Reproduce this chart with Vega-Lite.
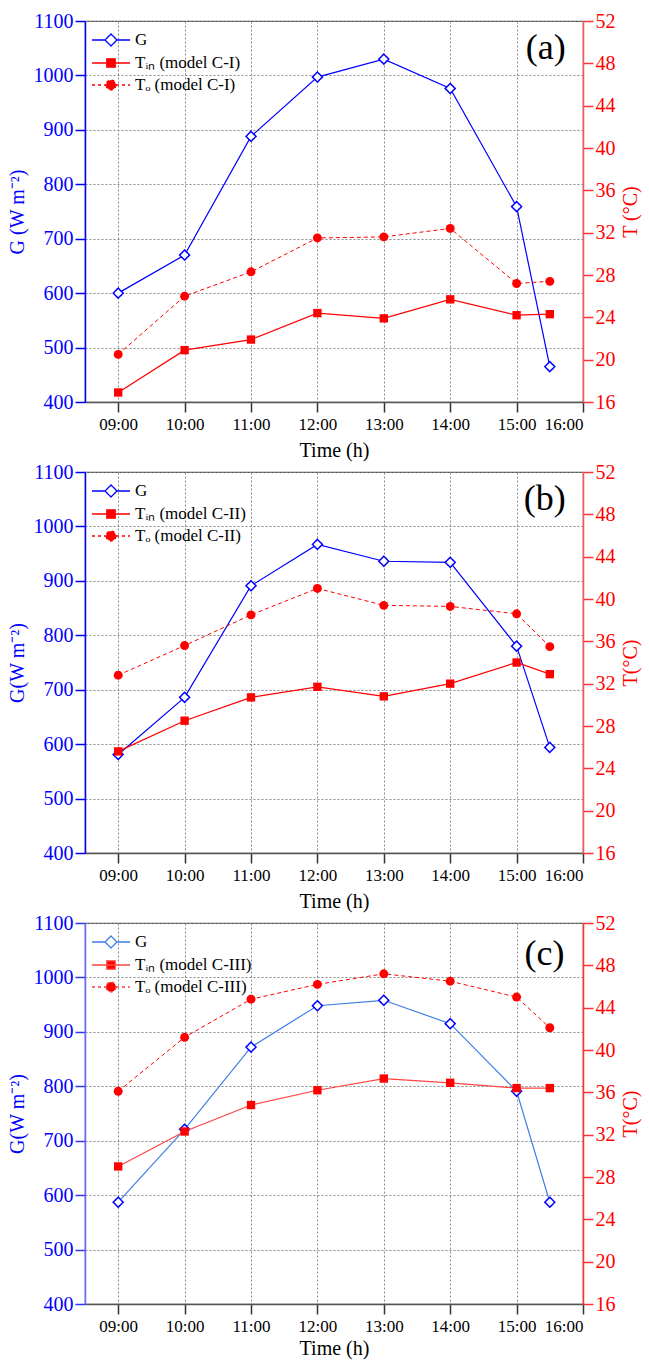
{
  "$schema": "https://vega.github.io/schema/vega-lite/v6.json",
  "padding": {"left": 6, "top": 10, "right": 5, "bottom": 3},
  "config": {
    "font": "Liberation Serif",
    "view": {"stroke": "#555555", "strokeWidth": 1.2},
    "axis": {"labelFont": "Liberation Serif", "titleFont": "Liberation Serif", "titleFontWeight": "normal", "tickSize": 10, "labelPadding": 3, "domainWidth": 1.5, "tickWidth": 1.5},
    "legend": {"labelFont": "Liberation Serif", "labelFontSize": 17, "labelColor": "#000000"}
  },
  "data": {"values": [
    {"p":"a","s":"G","t":9,"v":600},{"p":"a","s":"G","t":10,"v":670},{"p":"a","s":"G","t":11,"v":888},{"p":"a","s":"G","t":12,"v":997},{"p":"a","s":"G","t":13,"v":1030},{"p":"a","s":"G","t":14,"v":976},{"p":"a","s":"G","t":15,"v":759},{"p":"a","s":"G","t":15.5,"v":465},
    {"p":"a","s":"Tin","t":9,"v":16.9},{"p":"a","s":"Tin","t":10,"v":20.9},{"p":"a","s":"Tin","t":11,"v":21.9},{"p":"a","s":"Tin","t":12,"v":24.4},{"p":"a","s":"Tin","t":13,"v":23.9},{"p":"a","s":"Tin","t":14,"v":25.7},{"p":"a","s":"Tin","t":15,"v":24.2},{"p":"a","s":"Tin","t":15.5,"v":24.3},
    {"p":"a","s":"To","t":9,"v":20.5},{"p":"a","s":"To","t":10,"v":26.0},{"p":"a","s":"To","t":11,"v":28.3},{"p":"a","s":"To","t":12,"v":31.5},{"p":"a","s":"To","t":13,"v":31.6},{"p":"a","s":"To","t":14,"v":32.4},{"p":"a","s":"To","t":15,"v":27.2},{"p":"a","s":"To","t":15.5,"v":27.4},
    {"p":"b","s":"G","t":9,"v":581},{"p":"b","s":"G","t":10,"v":686},{"p":"b","s":"G","t":11,"v":891},{"p":"b","s":"G","t":12,"v":967},{"p":"b","s":"G","t":13,"v":936},{"p":"b","s":"G","t":14,"v":934},{"p":"b","s":"G","t":15,"v":780},{"p":"b","s":"G","t":15.5,"v":594},
    {"p":"b","s":"Tin","t":9,"v":25.6},{"p":"b","s":"Tin","t":10,"v":28.5},{"p":"b","s":"Tin","t":11,"v":30.7},{"p":"b","s":"Tin","t":12,"v":31.7},{"p":"b","s":"Tin","t":13,"v":30.8},{"p":"b","s":"Tin","t":14,"v":32.0},{"p":"b","s":"Tin","t":15,"v":34.0},{"p":"b","s":"Tin","t":15.5,"v":32.9},
    {"p":"b","s":"To","t":9,"v":32.8},{"p":"b","s":"To","t":10,"v":35.6},{"p":"b","s":"To","t":11,"v":38.5},{"p":"b","s":"To","t":12,"v":41.0},{"p":"b","s":"To","t":13,"v":39.4},{"p":"b","s":"To","t":14,"v":39.3},{"p":"b","s":"To","t":15,"v":38.6},{"p":"b","s":"To","t":15.5,"v":35.5},
    {"p":"c","s":"G","t":9,"v":587},{"p":"c","s":"G","t":10,"v":721},{"p":"c","s":"G","t":11,"v":872},{"p":"c","s":"G","t":12,"v":948},{"p":"c","s":"G","t":13,"v":958},{"p":"c","s":"G","t":14,"v":915},{"p":"c","s":"G","t":15,"v":791},{"p":"c","s":"G","t":15.5,"v":587},
    {"p":"c","s":"Tin","t":9,"v":29.0},{"p":"c","s":"Tin","t":10,"v":32.3},{"p":"c","s":"Tin","t":11,"v":34.8},{"p":"c","s":"Tin","t":12,"v":36.2},{"p":"c","s":"Tin","t":13,"v":37.3},{"p":"c","s":"Tin","t":14,"v":36.9},{"p":"c","s":"Tin","t":15,"v":36.4},{"p":"c","s":"Tin","t":15.5,"v":36.4},
    {"p":"c","s":"To","t":9,"v":36.1},{"p":"c","s":"To","t":10,"v":41.2},{"p":"c","s":"To","t":11,"v":44.8},{"p":"c","s":"To","t":12,"v":46.2},{"p":"c","s":"To","t":13,"v":47.2},{"p":"c","s":"To","t":14,"v":46.5},{"p":"c","s":"To","t":15,"v":45.0},{"p":"c","s":"To","t":15.5,"v":42.1}
  ]},
  "bounds": "flush",
  "spacing": 70,
  "resolve": {"scale": {"strokeDash": "independent"}, "legend": {"strokeDash": "independent"}},
  "vconcat": [
    {
      "width": 498, "height": 381,
      "transform": [{"filter": "datum.p === 'a'"}],
      "layer": [
        {"layer": [
          {"transform": [{"filter": "datum.s === 'G'"}],
           "mark": {"type": "line", "color": "#0000ff", "strokeWidth": 1.2},
           "encoding": {
             "x": {"field": "t", "type": "quantitative", "scale": {"domain": [8.5, 16], "nice": false, "zero": false},
                   "axis": {"values": [9,10,11,12,13,14,15,16], "labelExpr": "format(datum.value,'02d') + ':00'", "title": "Time (h)", "titleFontSize": 20, "labelFontSize": 17, "labelFont": "Liberation Serif", "titleFont": "Liberation Serif", "labelColor": "#000000", "titleColor": "#000000", "domainColor": "#555555", "tickColor": "#333333", "grid": true, "gridDash": [2,2], "gridColor": "#888888", "gridWidth": 1, "labelPadding": 4, "titlePadding": 8}},
             "y": {"field": "v", "type": "quantitative", "scale": {"domain": [400, 1100], "nice": false, "zero": false},
                   "axis": {"orient": "left", "title": "G (W m⁻²)", "format": "d", "values": [400,500,600,700,800,900,1000,1100], "titleFontSize": 20, "labelFontSize": 20, "labelFont": "Liberation Serif", "titleFont": "Liberation Serif", "labelColor": "#0000ff", "titleColor": "#0000ff", "domainColor": "#0000ff", "tickColor": "#0000ff", "grid": true, "gridDash": [2,2], "gridColor": "#888888", "gridWidth": 1, "labelPadding": 2, "titlePadding": 6}}
           }},
          {"data": {"values": [{"p": "a", "lab": "(a)"}]},
           "mark": {"type": "text", "font": "Liberation Serif", "fontSize": 36, "align": "right", "baseline": "alphabetic", "color": "#000000"},
           "encoding": {"x": {"datum": 15.74, "type": "quantitative"}, "y": {"datum": 1030, "type": "quantitative"}, "text": {"field": "lab"}}},
          {"transform": [{"filter": "datum.s === 'G'"}],
           "mark": {"type": "point", "shape": "diamond", "stroke": "#0000ff", "fill": "#ffffff", "fillOpacity": 1, "strokeWidth": 1.5, "size": 100, "opacity": 1},
           "encoding": {
             "x": {"field": "t", "type": "quantitative"},
             "y": {"field": "v", "type": "quantitative"},
             "strokeDash": {"field": "s", "type": "nominal", "scale": {"domain": ["G","Tin","To"], "range": [[1,0],[1,0],[3,3]]},
               "legend": {"title": null, "orient": "none", "legendX": 15, "legendY": 8, "padding": 0, "rowPadding": 3, "symbolSize": 400, "symbolStrokeWidth": 1.3, "labelOffset": 13,
                 "labelExpr": "datum.value === 'G' ? 'G' : datum.value === 'Tin' ? 'Tᵢₙ (model C-I)' : 'Tₒ (model C-I)'",
                 "encoding": {"symbols": {
                   "shape": {"condition": [{"test": "datum.value === 'G'", "value": "M-1.9,0H-0.6M0.6,0H1.9M0,-0.6L0.6,0L0,0.6L-0.6,0Z"}, {"test": "datum.value === 'Tin'", "value": "M-1.9,0H1.9M-0.42,-0.42H0.42V0.42H-0.42Z"}], "value": "M-1.9,0H-0.5M0.5,0H1.9M0.5,0L0.433,0.25L0.25,0.433L0,0.5L-0.25,0.433L-0.433,0.25L-0.5,0L-0.433,-0.25L-0.25,-0.433L0,-0.5L0.25,-0.433L0.433,-0.25Z"},
                   "stroke": {"condition": {"test": "datum.value === 'G'", "value": "#0000ff"}, "value": "#ff0000"},
                   "fill": {"condition": {"test": "datum.value === 'G'", "value": "#ffffff"}, "value": "#ff0000"}
                 }}}}
           }}
        ]},
        {"layer": [
          {"transform": [{"filter": "datum.s === 'Tin'"}],
           "mark": {"type": "line", "color": "#ff0000", "strokeWidth": 1.2},
           "encoding": {
             "x": {"field": "t", "type": "quantitative"},
             "y": {"field": "v", "type": "quantitative", "scale": {"domain": [16, 52], "nice": false, "zero": false},
                   "axis": {"orient": "right", "title": "T (°C)", "titleAngle": 270, "titleBaseline": "top", "values": [16,20,24,28,32,36,40,44,48,52], "titleFontSize": 20, "labelFontSize": 20, "labelFont": "Liberation Serif", "titleFont": "Liberation Serif", "labelColor": "#ff0000", "titleColor": "#ff0000", "domainColor": "#ff5555", "tickColor": "#ff3333", "grid": false, "labelPadding": 2, "titlePadding": 5}}
           }},
          {"transform": [{"filter": "datum.s === 'Tin'"}],
           "mark": {"type": "point", "shape": "square", "filled": true, "color": "#ff0000", "size": 70, "opacity": 1},
           "encoding": {"x": {"field": "t", "type": "quantitative"}, "y": {"field": "v", "type": "quantitative"}}},
          {"transform": [{"filter": "datum.s === 'To'"}],
           "mark": {"type": "line", "color": "#ff0000", "strokeWidth": 1, "strokeDash": [4,3]},
           "encoding": {"x": {"field": "t", "type": "quantitative"}, "y": {"field": "v", "type": "quantitative"}}},
          {"transform": [{"filter": "datum.s === 'To'"}],
           "mark": {"type": "point", "shape": "circle", "filled": true, "color": "#ff0000", "size": 80, "opacity": 1},
           "encoding": {"x": {"field": "t", "type": "quantitative"}, "y": {"field": "v", "type": "quantitative"}}}
        ]}
      ],
      "resolve": {"scale": {"y": "independent"}}
    },
    {
      "width": 498, "height": 381,
      "transform": [{"filter": "datum.p === 'b'"}],
      "layer": [
        {"layer": [
          {"transform": [{"filter": "datum.s === 'G'"}],
           "mark": {"type": "line", "color": "#0000ff", "strokeWidth": 1.2},
           "encoding": {
             "x": {"field": "t", "type": "quantitative", "scale": {"domain": [8.5, 16], "nice": false, "zero": false},
                   "axis": {"values": [9,10,11,12,13,14,15,16], "labelExpr": "format(datum.value,'02d') + ':00'", "title": "Time (h)", "titleFontSize": 20, "labelFontSize": 17, "labelFont": "Liberation Serif", "titleFont": "Liberation Serif", "labelColor": "#000000", "titleColor": "#000000", "domainColor": "#555555", "tickColor": "#333333", "grid": true, "gridDash": [2,2], "gridColor": "#888888", "gridWidth": 1, "labelPadding": 4, "titlePadding": 8}},
             "y": {"field": "v", "type": "quantitative", "scale": {"domain": [400, 1100], "nice": false, "zero": false},
                   "axis": {"orient": "left", "title": "G(W m⁻²)", "format": "d", "values": [400,500,600,700,800,900,1000,1100], "titleFontSize": 20, "labelFontSize": 20, "labelFont": "Liberation Serif", "titleFont": "Liberation Serif", "labelColor": "#0000ff", "titleColor": "#0000ff", "domainColor": "#0000ff", "tickColor": "#0000ff", "grid": true, "gridDash": [2,2], "gridColor": "#888888", "gridWidth": 1, "labelPadding": 2, "titlePadding": 6}}
           }},
          {"data": {"values": [{"p": "b", "lab": "(b)"}]},
           "mark": {"type": "text", "font": "Liberation Serif", "fontSize": 36, "align": "right", "baseline": "alphabetic", "color": "#000000"},
           "encoding": {"x": {"datum": 15.74, "type": "quantitative"}, "y": {"datum": 1030, "type": "quantitative"}, "text": {"field": "lab"}}},
          {"transform": [{"filter": "datum.s === 'G'"}],
           "mark": {"type": "point", "shape": "diamond", "stroke": "#0000ff", "fill": "#ffffff", "fillOpacity": 1, "strokeWidth": 1.5, "size": 100, "opacity": 1},
           "encoding": {
             "x": {"field": "t", "type": "quantitative"},
             "y": {"field": "v", "type": "quantitative"},
             "strokeDash": {"field": "s", "type": "nominal", "scale": {"domain": ["G","Tin","To"], "range": [[1,0],[1,0],[3,3]]},
               "legend": {"title": null, "orient": "none", "legendX": 15, "legendY": 8, "padding": 0, "rowPadding": 3, "symbolSize": 400, "symbolStrokeWidth": 1.3, "labelOffset": 13,
                 "labelExpr": "datum.value === 'G' ? 'G' : datum.value === 'Tin' ? 'Tᵢₙ (model C-II)' : 'Tₒ (model C-II)'",
                 "encoding": {"symbols": {
                   "shape": {"condition": [{"test": "datum.value === 'G'", "value": "M-1.9,0H-0.6M0.6,0H1.9M0,-0.6L0.6,0L0,0.6L-0.6,0Z"}, {"test": "datum.value === 'Tin'", "value": "M-1.9,0H1.9M-0.42,-0.42H0.42V0.42H-0.42Z"}], "value": "M-1.9,0H-0.5M0.5,0H1.9M0.5,0L0.433,0.25L0.25,0.433L0,0.5L-0.25,0.433L-0.433,0.25L-0.5,0L-0.433,-0.25L-0.25,-0.433L0,-0.5L0.25,-0.433L0.433,-0.25Z"},
                   "stroke": {"condition": {"test": "datum.value === 'G'", "value": "#0000ff"}, "value": "#ff0000"},
                   "fill": {"condition": {"test": "datum.value === 'G'", "value": "#ffffff"}, "value": "#ff0000"}
                 }}}}
           }}
        ]},
        {"layer": [
          {"transform": [{"filter": "datum.s === 'Tin'"}],
           "mark": {"type": "line", "color": "#ff0000", "strokeWidth": 1.2},
           "encoding": {
             "x": {"field": "t", "type": "quantitative"},
             "y": {"field": "v", "type": "quantitative", "scale": {"domain": [16, 52], "nice": false, "zero": false},
                   "axis": {"orient": "right", "title": "T(°C)", "titleAngle": 270, "titleBaseline": "top", "values": [16,20,24,28,32,36,40,44,48,52], "titleFontSize": 20, "labelFontSize": 20, "labelFont": "Liberation Serif", "titleFont": "Liberation Serif", "labelColor": "#ff0000", "titleColor": "#ff0000", "domainColor": "#ff5555", "tickColor": "#ff3333", "grid": false, "labelPadding": 2, "titlePadding": 5}}
           }},
          {"transform": [{"filter": "datum.s === 'Tin'"}],
           "mark": {"type": "point", "shape": "square", "filled": true, "color": "#ff0000", "size": 70, "opacity": 1},
           "encoding": {"x": {"field": "t", "type": "quantitative"}, "y": {"field": "v", "type": "quantitative"}}},
          {"transform": [{"filter": "datum.s === 'To'"}],
           "mark": {"type": "line", "color": "#ff0000", "strokeWidth": 1, "strokeDash": [4,3]},
           "encoding": {"x": {"field": "t", "type": "quantitative"}, "y": {"field": "v", "type": "quantitative"}}},
          {"transform": [{"filter": "datum.s === 'To'"}],
           "mark": {"type": "point", "shape": "circle", "filled": true, "color": "#ff0000", "size": 80, "opacity": 1},
           "encoding": {"x": {"field": "t", "type": "quantitative"}, "y": {"field": "v", "type": "quantitative"}}}
        ]}
      ],
      "resolve": {"scale": {"y": "independent"}}
    },
    {
      "width": 498, "height": 381,
      "transform": [{"filter": "datum.p === 'c'"}],
      "layer": [
        {"layer": [
          {"transform": [{"filter": "datum.s === 'G'"}],
           "mark": {"type": "line", "color": "#3d7fe6", "strokeWidth": 1.2},
           "encoding": {
             "x": {"field": "t", "type": "quantitative", "scale": {"domain": [8.5, 16], "nice": false, "zero": false},
                   "axis": {"values": [9,10,11,12,13,14,15,16], "labelExpr": "format(datum.value,'02d') + ':00'", "title": "Time (h)", "titleFontSize": 20, "labelFontSize": 17, "labelFont": "Liberation Serif", "titleFont": "Liberation Serif", "labelColor": "#000000", "titleColor": "#000000", "domainColor": "#555555", "tickColor": "#333333", "grid": true, "gridDash": [2,2], "gridColor": "#888888", "gridWidth": 1, "labelPadding": 4, "titlePadding": 4}},
             "y": {"field": "v", "type": "quantitative", "scale": {"domain": [400, 1100], "nice": false, "zero": false},
                   "axis": {"orient": "left", "title": "G(W m⁻²)", "format": "d", "values": [400,500,600,700,800,900,1000,1100], "titleFontSize": 20, "labelFontSize": 20, "labelFont": "Liberation Serif", "titleFont": "Liberation Serif", "labelColor": "#0000ff", "titleColor": "#0000ff", "domainColor": "#6a6aff", "tickColor": "#3333ff", "grid": true, "gridDash": [2,2], "gridColor": "#888888", "gridWidth": 1, "labelPadding": 2, "titlePadding": 6}}
           }},
          {"data": {"values": [{"p": "c", "lab": "(c)"}]},
           "mark": {"type": "text", "font": "Liberation Serif", "fontSize": 36, "align": "right", "baseline": "alphabetic", "color": "#000000"},
           "encoding": {"x": {"datum": 15.72, "type": "quantitative"}, "y": {"datum": 1022, "type": "quantitative"}, "text": {"field": "lab"}}},
          {"transform": [{"filter": "datum.s === 'G'"}],
           "mark": {"type": "point", "shape": "diamond", "stroke": "#0000ff", "fill": "#ffffff", "fillOpacity": 1, "strokeWidth": 1.5, "size": 100, "opacity": 1},
           "encoding": {
             "x": {"field": "t", "type": "quantitative"},
             "y": {"field": "v", "type": "quantitative"},
             "strokeDash": {"field": "s", "type": "nominal", "scale": {"domain": ["G","Tin","To"], "range": [[1,0],[1,0],[3,3]]},
               "legend": {"title": null, "orient": "none", "legendX": 15, "legendY": 8, "padding": 0, "rowPadding": 3, "symbolSize": 400, "symbolStrokeWidth": 1.3, "labelOffset": 13,
                 "labelExpr": "datum.value === 'G' ? 'G' : datum.value === 'Tin' ? 'Tᵢₙ (model C-III)' : 'Tₒ (model C-III)'",
                 "encoding": {"symbols": {
                   "shape": {"condition": [{"test": "datum.value === 'G'", "value": "M-1.9,0H-0.6M0.6,0H1.9M0,-0.6L0.6,0L0,0.6L-0.6,0Z"}, {"test": "datum.value === 'Tin'", "value": "M-1.9,0H1.9M-0.42,-0.42H0.42V0.42H-0.42Z"}], "value": "M-1.9,0H-0.5M0.5,0H1.9M0.5,0L0.433,0.25L0.25,0.433L0,0.5L-0.25,0.433L-0.433,0.25L-0.5,0L-0.433,-0.25L-0.25,-0.433L0,-0.5L0.25,-0.433L0.433,-0.25Z"},
                   "stroke": {"condition": {"test": "datum.value === 'G'", "value": "#3d7fe6"}, "value": "#ff4444"},
                   "fill": {"condition": {"test": "datum.value === 'G'", "value": "#ffffff"}, "value": "#ff0000"}
                 }}}}
           }}
        ]},
        {"layer": [
          {"transform": [{"filter": "datum.s === 'Tin'"}],
           "mark": {"type": "line", "color": "#ff4444", "strokeWidth": 1.2},
           "encoding": {
             "x": {"field": "t", "type": "quantitative"},
             "y": {"field": "v", "type": "quantitative", "scale": {"domain": [16, 52], "nice": false, "zero": false},
                   "axis": {"orient": "right", "title": "T(°C)", "titleAngle": 270, "titleBaseline": "top", "values": [16,20,24,28,32,36,40,44,48,52], "titleFontSize": 20, "labelFontSize": 20, "labelFont": "Liberation Serif", "titleFont": "Liberation Serif", "labelColor": "#ff0000", "titleColor": "#ff0000", "domainColor": "#ff3333", "tickColor": "#ff3333", "grid": false, "labelPadding": 2, "titlePadding": 5}}
           }},
          {"transform": [{"filter": "datum.s === 'Tin'"}],
           "mark": {"type": "point", "shape": "square", "filled": true, "color": "#ff0000", "size": 70, "opacity": 1},
           "encoding": {"x": {"field": "t", "type": "quantitative"}, "y": {"field": "v", "type": "quantitative"}}},
          {"transform": [{"filter": "datum.s === 'To'"}],
           "mark": {"type": "line", "color": "#ff0000", "strokeWidth": 1, "strokeDash": [4,3]},
           "encoding": {"x": {"field": "t", "type": "quantitative"}, "y": {"field": "v", "type": "quantitative"}}},
          {"transform": [{"filter": "datum.s === 'To'"}],
           "mark": {"type": "point", "shape": "circle", "filled": true, "color": "#ff0000", "size": 80, "opacity": 1},
           "encoding": {"x": {"field": "t", "type": "quantitative"}, "y": {"field": "v", "type": "quantitative"}}}
        ]}
      ],
      "resolve": {"scale": {"y": "independent"}}
    }
  ]
}
